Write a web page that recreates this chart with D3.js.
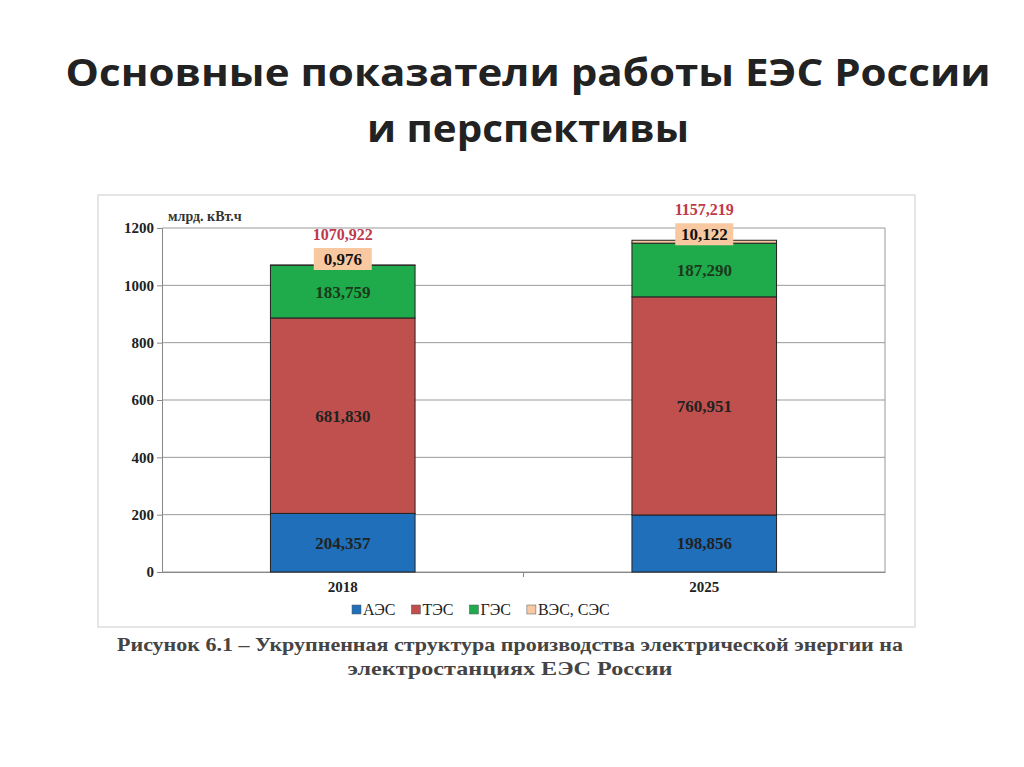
<!DOCTYPE html><html><head><meta charset="utf-8"><script src="https://cdn.jsdelivr.net/npm/d3@7"></script>
<style>body{margin:0;background:#fff}</style></head><body><svg id="c" width="1024" height="767"></svg><script>
const categories=["2018","2025"];
const seriesNames=["АЭС","ТЭС","ГЭС","ВЭС, СЭС"];
const aes=[204.357,198.856];
const tes=[681.830,760.951];
const ges=[183.759,187.290];
const ves=[0.976,10.122];
const totals=["1070,922","1157,219"];
const yTicks=[0,200,400,600,800,1000,1200];
const colors=["#1f6fba","#c0504d","#1faa4c","#f8c9a0"];
const labelColors=["#222","#222","#1b3a1b","#222"];
const svg=d3.select("#c");
const title=(t,yy,len)=>svg.append("text").attr("x",528).attr("y",yy).attr("text-anchor","middle").attr("font-family","Open Sans, sans-serif").attr("font-weight","bold").attr("font-size",38).attr("fill","#222").attr("textLength",len).attr("lengthAdjust","spacingAndGlyphs").text(t);
title("Основные показатели работы ЕЭС России",86,925);
title("и перспективы",142,322);
svg.append("rect").attr("x",98).attr("y",195).attr("width",817).attr("height",432).attr("fill","none").attr("stroke","#ccc");
const L=162,R=885,T=228,B=572;
const x=d3.scaleBand().domain(categories).range([L,R]).paddingInner(0.6).paddingOuter(0.3);
const y=d3.scaleLinear().domain([0,1200]).range([B,T]);
const g=svg.append("g");
yTicks.forEach(t=>g.append("line").attr("x1",L).attr("x2",R).attr("y1",y(t)).attr("y2",y(t)).attr("stroke","#999"));
g.append("line").attr("x1",R).attr("x2",R).attr("y1",T).attr("y2",B).attr("stroke","#999");
const ya=d3.axisLeft(y).tickValues(yTicks).tickFormat(d3.format("d")).tickSize(5);
const ag=svg.append("g").attr("transform",`translate(${L},0)`).call(ya);
ag.selectAll("text").attr("font-family","Liberation Serif, serif").attr("font-weight","bold").attr("font-size",15).attr("fill","#222");
ag.selectAll("line,path").attr("stroke","#888");
const xa=d3.axisBottom(x).tickSize(0);
const xg=svg.append("g").attr("transform",`translate(0,${B})`).call(xa);
xg.selectAll("text").attr("dy",17).attr("font-family","Liberation Serif, serif").attr("font-weight","bold").attr("font-size",15).attr("fill","#222");
xg.selectAll("path").attr("stroke","#888");
svg.append("line").attr("x1",(L+R)/2).attr("x2",(L+R)/2).attr("y1",B).attr("y2",B+5).attr("stroke","#888");
const data=categories.map((c,i)=>({cat:c,AES:aes[i],TES:tes[i],GES:ges[i],VES:ves[i]}));
const keys=["AES","TES","GES","VES"];
const stack=d3.stack().keys(keys)(data);
stack.forEach((s,k)=>{s.forEach(d=>{
 svg.append("rect").attr("x",x(d.data.cat)).attr("width",x.bandwidth()).attr("y",y(d[1])).attr("height",y(d[0])-y(d[1])).attr("fill",colors[k]).attr("stroke","#222").attr("stroke-width",1);
});});
const fmt=v=>v.toFixed(3).replace(".",",");
stack.forEach((s,k)=>{s.forEach((d,i)=>{
 const cx=x(d.data.cat)+x.bandwidth()/2;
 if(k<3){svg.append("text").attr("x",cx).attr("y",(y(d[0])+y(d[1]))/2+6).attr("text-anchor","middle").attr("font-family","Liberation Serif, serif").attr("font-weight","bold").attr("font-size",17).attr("fill",labelColors[k]).text(fmt(d[1]-d[0]));}
 else{const ty=y(d[1])-6;svg.append("rect").attr("x",cx-29).attr("y",ty-11).attr("width",58).attr("height",22).attr("fill",colors[3]);
  svg.append("text").attr("x",cx).attr("y",ty+6).attr("text-anchor","middle").attr("font-family","Liberation Serif, serif").attr("font-weight","bold").attr("font-size",17).attr("fill","#111").text(fmt(d[1]-d[0]));
  svg.append("text").attr("x",cx).attr("y",ty-19).attr("text-anchor","middle").attr("font-family","Liberation Serif, serif").attr("font-weight","bold").attr("font-size",16).attr("fill","#c0394b").text(totals[i]);}
});});
svg.append("text").attr("x",168).attr("y",221).attr("font-family","Liberation Serif, serif").attr("font-weight","bold").attr("font-size",14).attr("fill","#333").text("млрд. кВт.ч");
const lg=svg.append("g");let lx=352;
seriesNames.forEach((n,i)=>{lg.append("rect").attr("x",lx).attr("y",605).attr("width",9).attr("height",9).attr("fill",colors[i]).attr("stroke","#555").attr("stroke-width",0.5);
 const t=lg.append("text").attr("x",lx+11).attr("y",615).attr("font-family","Liberation Serif, serif").attr("font-size",16).attr("fill","#222").text(n);
 lx+=11+t.node().getComputedTextLength()+16;});
const cap=(t,yy,len)=>svg.append("text").attr("x",510).attr("y",yy).attr("text-anchor","middle").attr("font-family","Liberation Serif, serif").attr("font-weight","bold").attr("font-size",19).attr("fill","#444").attr("textLength",len).attr("lengthAdjust","spacingAndGlyphs").text(t);
cap("Рисунок 6.1 – Укрупненная структура производства электрической энергии на",651,786);
cap("электростанциях ЕЭС России",675,325);
</script></body></html>
